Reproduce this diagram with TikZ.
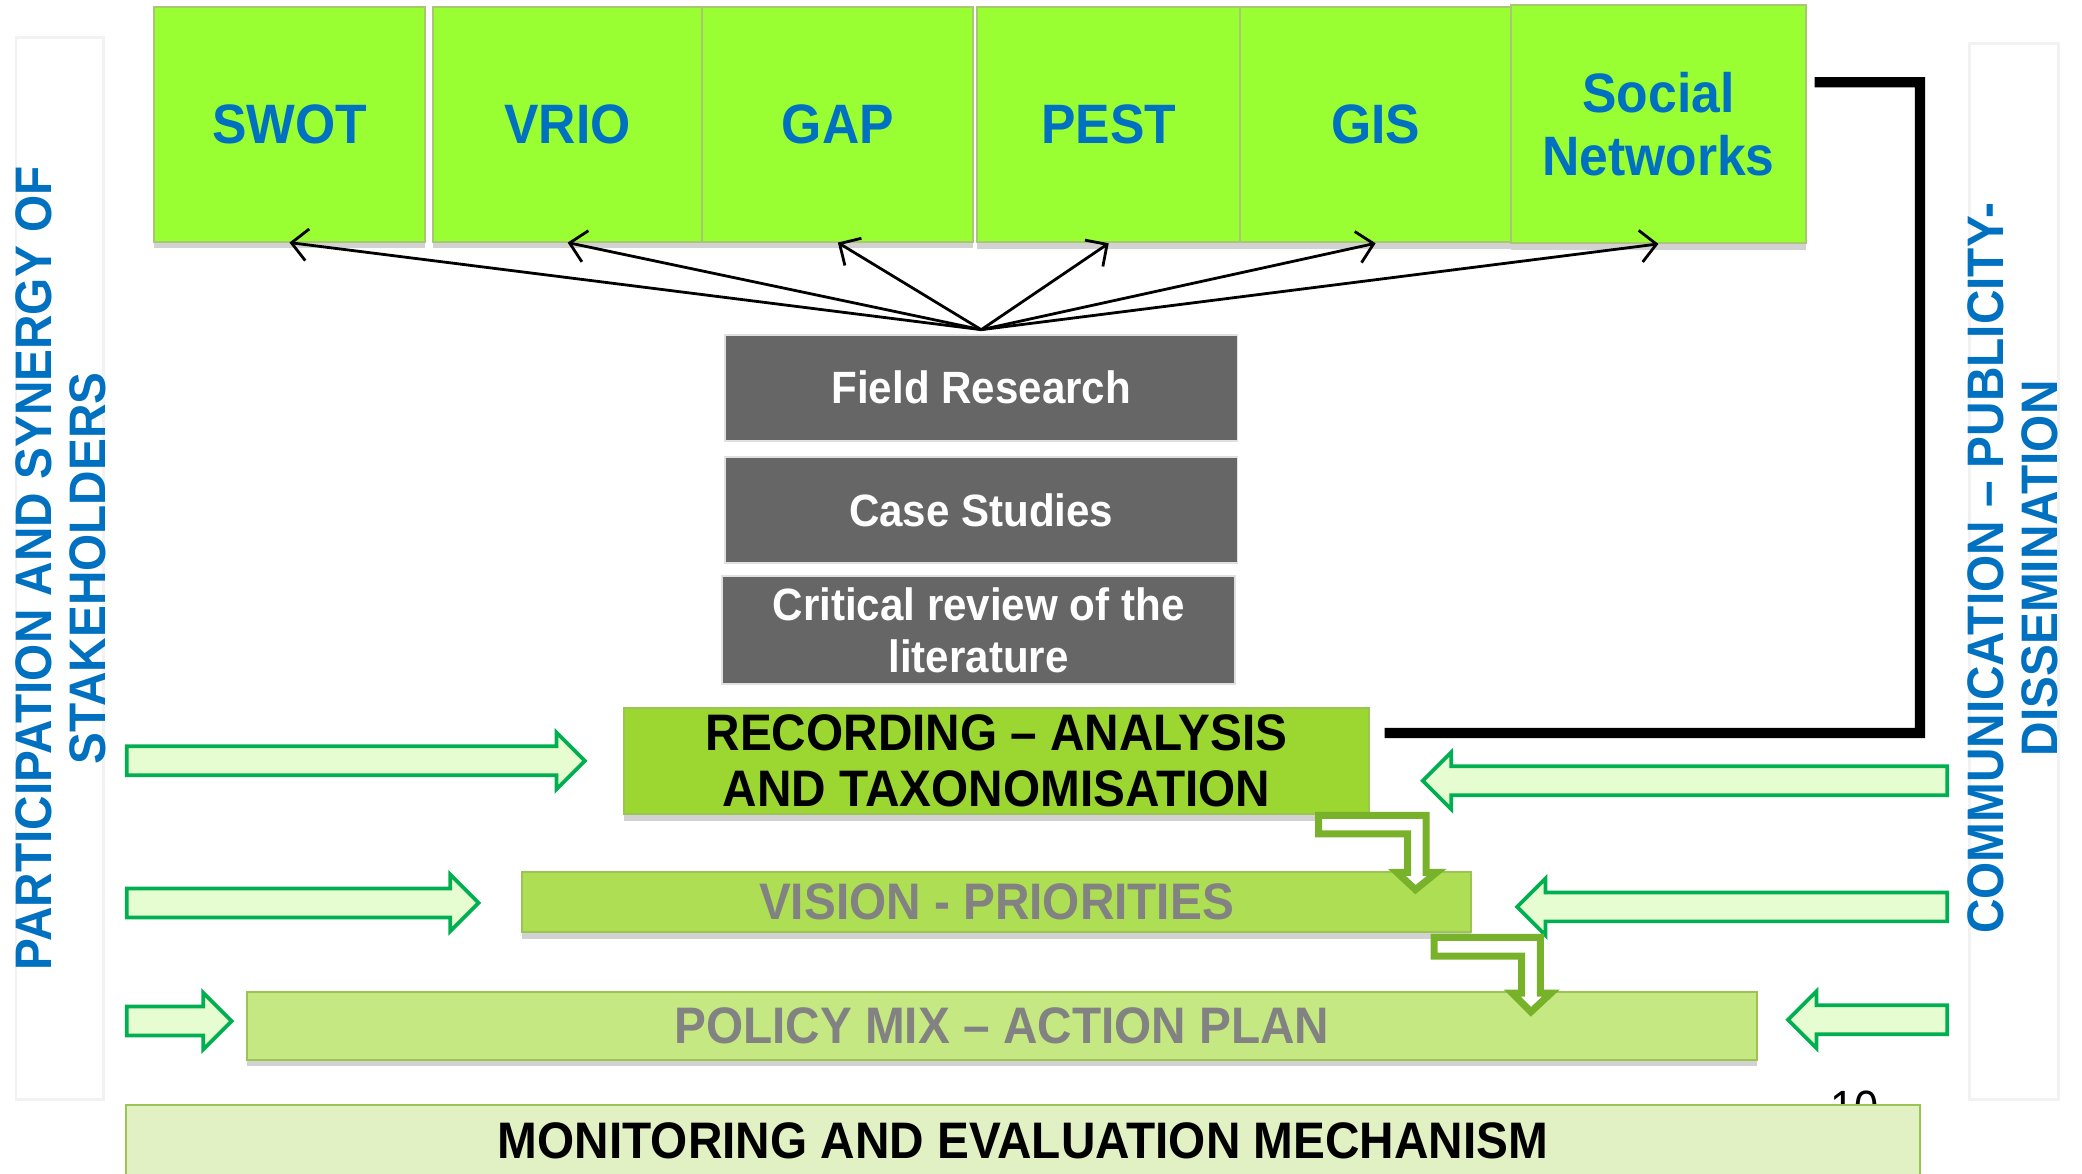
\documentclass[tikz,border=0pt]{standalone}
\usepackage{fontspec}
\setmainfont{Liberation Sans}[FakeStretch=0.93]
\usetikzlibrary{shapes.arrows,shadows,arrows.meta}

\definecolor{toolgreen}{HTML}{99FF33}
\definecolor{tooledge}{HTML}{A9C773}
\definecolor{titleblue}{HTML}{0070C0}
\definecolor{darkbox}{HTML}{666666}
\definecolor{stepone}{HTML}{9CD631}
\definecolor{steptwo}{HTML}{AEDE53}
\definecolor{stepthree}{HTML}{C5E883}
\definecolor{stepfour}{HTML}{E1F1C3}
\definecolor{stepedge}{HTML}{9BC454}
\definecolor{sidefill}{HTML}{E6FCD1}
\definecolor{sideedge}{HTML}{00B050}
\definecolor{bendedge}{HTML}{78B22A}
\definecolor{softgray}{HTML}{828282}

\tikzset{
  boxshadow/.style={drop shadow={shadow xshift=0pt,shadow yshift=-0.5mm,fill=black!35,opacity=.5}},
  tool/.style={draw=tooledge, fill=toolgreen, minimum height=1.77cm, inner sep=0pt, align=center,
    text=titleblue, font=\fontsize{11.9}{13.6}\selectfont\bfseries, boxshadow},
  method/.style={draw=black!12, fill=darkbox, minimum width=3.86cm, minimum height=0.8cm, inner sep=0pt,
    align=center, text=white, font=\fontsize{9.7}{11.1}\selectfont\bfseries},
  stage/.style={draw=stepedge, inner sep=0pt, align=center, font=\fontsize{11}{12.2}\selectfont\bfseries, boxshadow},
  feed/.style={single arrow, draw=sideedge, fill=sidefill, line width=0.8pt, inner xsep=0pt, inner ysep=0.095cm,
    single arrow head extend=0.105cm, single arrow tip angle=90},
  turnarrow/.style={draw=bendedge, fill=white, line width=1.5pt, line join=miter},
  link/.style={-{Straight Barb[length=1.2mm,width=2.4mm]}, line width=0.6pt},
  feedback/.style={line width=2.2pt, line join=miter},
  side/.style={rotate=90, align=center, text=titleblue, font=\fontsize{11}{11.6}\selectfont\bfseries},
  sideframe/.style={draw=black!5, line width=0.6pt},
}

\begin{document}
\begin{tikzpicture}[x=1cm,y=-1cm]
  \useasboundingbox (0,0) rectangle (15.68,8.84);

  \draw[sideframe] (0.12,0.28) rectangle (0.78,8.28);
  \draw[sideframe] (14.83,0.33) rectangle (15.50,8.28);
  \node[side] (participation) at (0.46,4.28) {PARTICIPATION AND SYNERGY OF\\STAKEHOLDERS};
  \node[side] (communication) at (15.16,4.28) {COMMUNICATION – PUBLICITY-\\DISSEMINATION};

  \node[tool, minimum width=2.04cm] (swot) at (2.18,0.935) {SWOT};
  \node[tool, minimum width=2.03cm] (vrio) at (4.275,0.935) {VRIO};
  \node[tool, minimum width=2.04cm] (gap) at (6.31,0.935) {GAP};
  \node[tool, minimum width=1.98cm] (pest) at (8.35,0.94) {PEST};
  \node[tool, minimum width=2.04cm] (gis) at (10.36,0.94) {GIS};
  \node[tool, minimum width=2.22cm, minimum height=1.79cm] (social) at (12.49,0.935) {Social\\Networks};

  \node[method] (field) at (7.39,2.92) {Field Research};
  \node[method] (cases) at (7.39,3.84) {Case Studies};
  \node[method, minimum height=0.81cm] (review) at (7.37,4.745) {Critical review of the\\literature};

  \coordinate (hub) at ([yshift=0.3mm]field.north);
  \foreach \t in {swot,vrio,gap,pest,gis,social}
    \draw[link] (hub) -- (\t.south);

  \node[stage, fill=stepone, minimum width=5.61cm, minimum height=0.80cm] (recording) at (7.505,5.73)
    {RECORDING – ANALYSIS\\AND TAXONOMISATION};
  \node[stage, fill=steptwo, text=softgray, minimum width=7.15cm, minimum height=0.45cm] (vision) at (7.505,6.795)
    {VISION - PRIORITIES};
  \node[stage, fill=stepthree, text=softgray, minimum width=11.37cm, minimum height=0.51cm] (policy) at (7.545,7.725)
    {POLICY MIX – ACTION PLAN};
  \node[font=\fontsize{10}{12}\selectfont] (pageno) at (13.97,8.34) {10};
  \node[stage, fill=stepfour, minimum width=13.51cm, minimum height=0.54cm] (monitoring) at (7.705,8.59)
    {MONITORING AND EVALUATION MECHANISM};

  \draw[feedback] ([shift={(0.06,-0.315)}]social.east) -| (14.46,5.52) coordinate (corner)
    -- ([shift={(0.11,-0.21)}]recording.east);

  \node[feed, minimum height=3.45cm] (feedin1) at (2.625,5.73) {};
  \node[feed, minimum height=2.65cm] (feedin2) at (2.225,6.80) {};
  \node[feed, minimum height=0.79cm] (feedin3) at (1.295,7.69) {};
  \node[feed, shape border rotate=180, minimum height=3.95cm] (feedout1) at (12.745,5.88) {};
  \node[feed, shape border rotate=180, minimum height=3.24cm] (feedout2) at (13.10,6.83) {};
  \node[feed, shape border rotate=180, minimum height=1.20cm] (feedout3) at (14.12,7.68) {};

  \draw[turnarrow] (9.93,6.14) -- (10.74,6.14) -- (10.74,6.57) -- (10.82,6.57) -- (10.66,6.70)
    -- (10.52,6.57) -- (10.60,6.57) -- (10.60,6.28) -- (9.93,6.28) -- cycle;
  \draw[turnarrow] (10.80,7.06) -- (11.60,7.06) -- (11.60,7.48) -- (11.68,7.48) -- (11.53,7.62)
    -- (11.39,7.48) -- (11.46,7.48) -- (11.46,7.20) -- (10.80,7.20) -- cycle;
\end{tikzpicture}
\end{document}
